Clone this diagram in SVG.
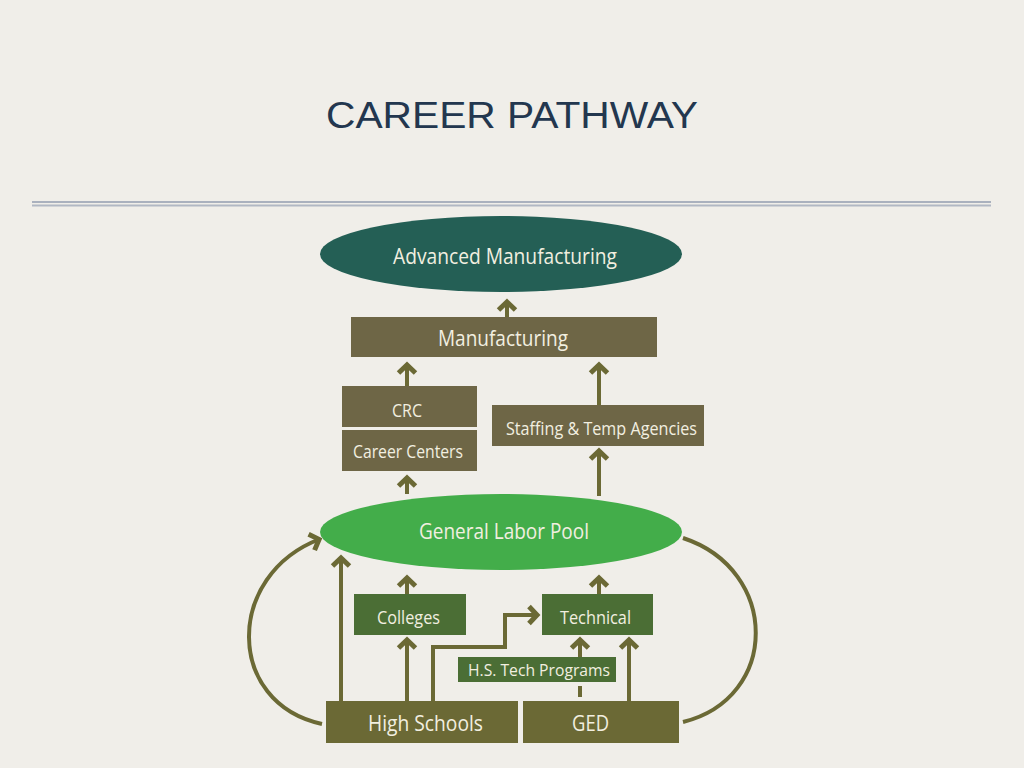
<svg xmlns="http://www.w3.org/2000/svg" width="1024" height="768" viewBox="0 0 1024 768">
<defs>
<style>
.lbl{font-family:"Open Sans","Liberation Sans",sans-serif;fill:#f2efe0;text-anchor:middle}
.con{fill:none;stroke:#6b6935;stroke-width:4}
.brown{fill:#6e6646}
.dkgreen{fill:#4b6e35}
.olive{fill:#6b6935}
</style>
<marker id="ah" markerUnits="userSpaceOnUse" markerWidth="30" markerHeight="30" viewBox="-15 -15 30 30" refX="1" refY="0" orient="auto">
<path d="M -8 -8.5 L 0 0 L -8 8.5" fill="none" stroke="#6b6935" stroke-width="5" stroke-linejoin="miter"/>
</marker>
</defs>
<rect width="1024" height="768" fill="#f0eee9"/>
<text x="512" y="128" font-family="'Liberation Sans',Arial,sans-serif" font-size="37" fill="#23374f" text-anchor="middle" textLength="372" lengthAdjust="spacingAndGlyphs">CAREER PATHWAY</text>
<rect x="32" y="201" width="959" height="2" fill="#aab1be"/>
<rect x="32" y="204.5" width="959" height="2" fill="#b1b8c4"/>

<g id="connectors">
<line class="con" x1="507" y1="317" x2="507" y2="301" marker-end="url(#ah)"/>
<line class="con" x1="407" y1="386" x2="407" y2="364" marker-end="url(#ah)"/>
<line class="con" x1="599" y1="405" x2="599" y2="364" marker-end="url(#ah)"/>
<line class="con" x1="407" y1="494" x2="407" y2="477" marker-end="url(#ah)"/>
<line class="con" x1="599" y1="496" x2="599" y2="450" marker-end="url(#ah)"/>
<line class="con" x1="407" y1="594" x2="407" y2="577" marker-end="url(#ah)"/>
<line class="con" x1="599" y1="594" x2="599" y2="577" marker-end="url(#ah)"/>
<line class="con" x1="341" y1="701" x2="341" y2="557" marker-end="url(#ah)"/>
<line class="con" x1="407" y1="701" x2="407" y2="639" marker-end="url(#ah)"/>
<polyline class="con" points="433,701 433,647 505,647 505,615 538,615" marker-end="url(#ah)"/>
<line class="con" x1="580" y1="657" x2="580" y2="639" marker-end="url(#ah)"/>
<line class="con" x1="580" y1="686" x2="580" y2="697"/>
<line class="con" x1="629" y1="701" x2="629" y2="639" marker-end="url(#ah)"/>
<path class="con" d="M 322 724 C 225 703 225 575 320 539" marker-end="url(#ah)"/>
<path class="con" d="M 683 538 C 780 570 780 698 683 722"/>
</g>

<g id="advanced-manufacturing">
<ellipse cx="501" cy="254" rx="181" ry="38" fill="#245f55"/>
<text class="lbl" x="505" y="264" font-size="21.5" textLength="224" lengthAdjust="spacingAndGlyphs">Advanced Manufacturing</text>
</g>
<g id="manufacturing">
<rect class="brown" x="351" y="317" width="306" height="40"/>
<text class="lbl" x="503" y="346" font-size="22" textLength="130" lengthAdjust="spacingAndGlyphs">Manufacturing</text>
</g>
<g id="crc">
<rect class="brown" x="342" y="386" width="135" height="41"/>
<text class="lbl" x="407" y="417" font-size="18.5" textLength="30" lengthAdjust="spacingAndGlyphs">CRC</text>
</g>
<g id="career-centers">
<rect class="brown" x="342" y="430" width="135" height="41"/>
<text class="lbl" x="408" y="458" font-size="18.5" textLength="110" lengthAdjust="spacingAndGlyphs">Career Centers</text>
</g>
<g id="staffing">
<rect class="brown" x="492" y="405" width="212" height="41"/>
<text class="lbl" x="601.5" y="435" font-size="18.5" textLength="191" lengthAdjust="spacingAndGlyphs">Staffing &amp; Temp Agencies</text>
</g>
<g id="general-labor-pool">
<ellipse cx="501" cy="532" rx="181" ry="38" fill="#43ad4a"/>
<text class="lbl" x="504" y="539" font-size="21" textLength="170" lengthAdjust="spacingAndGlyphs">General Labor Pool</text>
</g>
<g id="colleges">
<rect class="dkgreen" x="354" y="594" width="112" height="41"/>
<text class="lbl" x="408.5" y="624" font-size="19" textLength="63" lengthAdjust="spacingAndGlyphs">Colleges</text>
</g>
<g id="technical">
<rect class="dkgreen" x="542" y="594" width="111" height="41"/>
<text class="lbl" x="595.5" y="624" font-size="19" textLength="71" lengthAdjust="spacingAndGlyphs">Technical</text>
</g>
<g id="hs-tech-programs">
<rect class="dkgreen" x="458" y="657" width="158" height="25"/>
<text class="lbl" x="539" y="676" font-size="17" textLength="142" lengthAdjust="spacingAndGlyphs">H.S. Tech Programs</text>
</g>
<g id="high-schools">
<rect class="olive" x="326" y="701" width="192" height="42"/>
<text class="lbl" x="425.5" y="731" font-size="22" textLength="115" lengthAdjust="spacingAndGlyphs">High Schools</text>
</g>
<g id="ged">
<rect class="olive" x="523" y="701" width="156" height="42"/>
<text class="lbl" x="590.5" y="731" font-size="22" textLength="37" lengthAdjust="spacingAndGlyphs">GED</text>
</g>
</svg>
